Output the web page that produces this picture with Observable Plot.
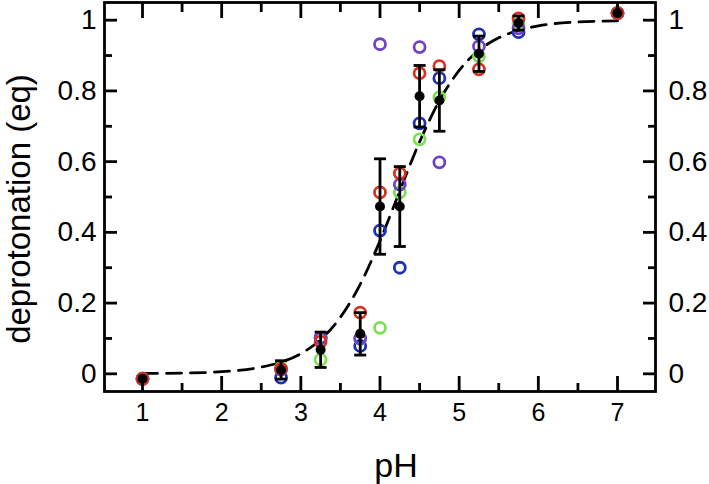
<!DOCTYPE html>
<html>
<head>
<meta charset="utf-8">
<script src="https://cdn.jsdelivr.net/npm/d3@7"></script>
<script src="https://cdn.jsdelivr.net/npm/@observablehq/plot@0.6"></script>
<style>
  html, body { margin: 0; padding: 0; background: #fff; }
</style>
</head>
<body>
<div id="chart"></div>
<script>
// ---- data ----
const pH       = [1, 2.75, 3.25, 3.75, 4, 4.25, 4.5, 4.75, 5.25, 5.75, 7];
const redVals    = [-0.014, 0.014, 0.091, 0.173, 0.513, 0.567, 0.850, 0.870, 0.861, 1.005, 1.02];
const blueVals   = [-0.014, -0.011, 0.102, 0.079, 0.405, 0.300, 0.708, 0.836, 0.960, 0.966, 1.02];
const greenVals  = [-0.014, 0.017, 0.040, 0.099, 0.130, 0.513, 0.663, 0.782, 0.898, 0.990, 1.02];
const purpleVals = [-0.014, 0.012, 0.100, 0.100, 0.932, 0.535, 0.924, 0.598, 0.926, 0.977, 1.02];
const meanVals   = [-0.014, 0.011, 0.068, 0.113, 0.473, 0.473, 0.785, 0.773, 0.905, 0.992, 1.02];
const errVals    = [0, 0.026, 0.05, 0.06, 0.135, 0.113, 0.087, 0.087, 0.05, 0.02, 0];

// dashed fit curve
const curvePH  = [1, 1.5, 2, 2.5, 2.75, 3, 3.25, 3.5, 3.75, 4, 4.25, 4.5, 4.75, 5, 5.25, 5.5, 5.75, 6, 6.5, 7];
const curveVal = [0.001, 0.002, 0.006, 0.019, 0.033, 0.057, 0.097, 0.16, 0.253, 0.376, 0.517, 0.656, 0.772, 0.858, 0.915, 0.95, 0.971, 0.984, 0.995, 0.998];

// ticks
const xMajor = [1, 2, 3, 4, 5, 6, 7];
const xMinor = [1.5, 2.5, 3.5, 4.5, 5.5, 6.5];
const yMajor = [0, 0.2, 0.4, 0.6, 0.8, 1];
const yMinor = [0.1, 0.3, 0.5, 0.7, 0.9];
const yTickLabels = ["0", "0.2", "0.4", "0.6", "0.8", "1"];

const xTitle = "pH";
const yTitle = "deprotonation (eq)";

// ---- build tables ----
const series = [
  {name: "blue",   color: "#1f30b8", vals: blueVals},
  {name: "green",  color: "#7ddf52", vals: greenVals},
  {name: "purple", color: "#7043c6", vals: purpleVals},
  {name: "red",    color: "#d6321f", vals: redVals}
];
const stats = pH.map((p, i) => ({pH: p, mean: meanVals[i], err: errVals[i]}));
const bars = stats.filter(d => d.err > 0);
const curve = curvePH.map((p, i) => ({pH: p, v: curveVal[i]}));

const capSymbol = {
  draw(context, size) {
    const w = Math.sqrt(size / Math.PI);
    context.moveTo(-w, 0);
    context.lineTo(w, 0);
  }
};

const SW = 2.8;
const fmtY = d => yTickLabels[yMajor.indexOf(d)];

const marks = [
  Plot.line(curve, {x: "pH", y: "v", stroke: "black", strokeWidth: 2.8, strokeDasharray: "15,9", curve: "monotone-x"}),
  ...series.map(s => Plot.dot(pH.map((p, i) => ({pH: p, v: s.vals[i]})), {
    x: "pH", y: "v", r: 5.5, stroke: s.color, strokeWidth: 2.8, fill: "none"
  })),
  Plot.ruleX(bars, {x: "pH", y1: d => d.mean - d.err, y2: d => d.mean + d.err, stroke: "black", strokeWidth: SW}),
  Plot.dot(bars, {x: "pH", y: d => d.mean - d.err, symbol: capSymbol, r: 6, stroke: "black", strokeWidth: SW, fill: "none"}),
  Plot.dot(bars, {x: "pH", y: d => d.mean + d.err, symbol: capSymbol, r: 6, stroke: "black", strokeWidth: SW, fill: "none"}),
  Plot.dot(stats, {x: "pH", y: "mean", r: 5, fill: "black", stroke: "none"}),
  Plot.frame({stroke: "black", strokeWidth: SW}),
  // inward tick marks
  Plot.axisX(xMajor, {anchor: "bottom", tickSize: -15, strokeWidth: SW, tickFormat: () => "", label: null}),
  Plot.axisX(xMinor, {anchor: "bottom", tickSize: -8, strokeWidth: SW, tickFormat: () => "", label: null}),
  Plot.axisX(xMajor, {anchor: "top", tickSize: -15, strokeWidth: SW, tickFormat: () => "", label: null}),
  Plot.axisX(xMinor, {anchor: "top", tickSize: -9, strokeWidth: SW, tickFormat: () => "", label: null}),
  Plot.axisY(yMajor, {anchor: "left", tickSize: -13, strokeWidth: SW, tickFormat: () => "", label: null}),
  Plot.axisY(yMinor, {anchor: "left", tickSize: -8, strokeWidth: SW, tickFormat: () => "", label: null}),
  Plot.axisY(yMajor, {anchor: "right", tickSize: -13, strokeWidth: SW, tickFormat: () => "", label: null}),
  Plot.axisY(yMinor, {anchor: "right", tickSize: -8, strokeWidth: SW, tickFormat: () => "", label: null}),
  // tick labels
  Plot.axisX(xMajor, {anchor: "bottom", tickSize: 0, tickPadding: 12, fontSize: 25, label: null, tickFormat: d => String(d)}),
  Plot.axisY(yMajor, {anchor: "left", tickSize: 0, tickPadding: 8, fontSize: 28, label: null, tickFormat: fmtY}),
  Plot.axisY(yMajor, {anchor: "right", tickSize: 0, tickPadding: 13, fontSize: 28, label: null, tickFormat: fmtY}),
  // axis titles
  Plot.text([xTitle], {text: d => d, frameAnchor: "bottom", lineAnchor: "middle", textAnchor: "middle", dx: 16, dy: 75, fontSize: 34, fill: "black"}),
  Plot.text([yTitle], {text: d => d, frameAnchor: "left", lineAnchor: "middle", textAnchor: "middle", rotate: -90, dx: -85, dy: 12, fontSize: 33, fill: "black"})
];

const chart = Plot.plot({
  width: 709,
  height: 484,
  marginLeft: 104,
  marginRight: 54,
  marginTop: 2,
  marginBottom: 93,
  x: {domain: [0.52, 7.48]},
  y: {domain: [-0.05, 1.05]},
  style: {fontFamily: "'Liberation Sans', Arial, sans-serif", background: "white", color: "black"},
  marks
});
document.getElementById("chart").appendChild(chart);
</script>
</body>
</html>
